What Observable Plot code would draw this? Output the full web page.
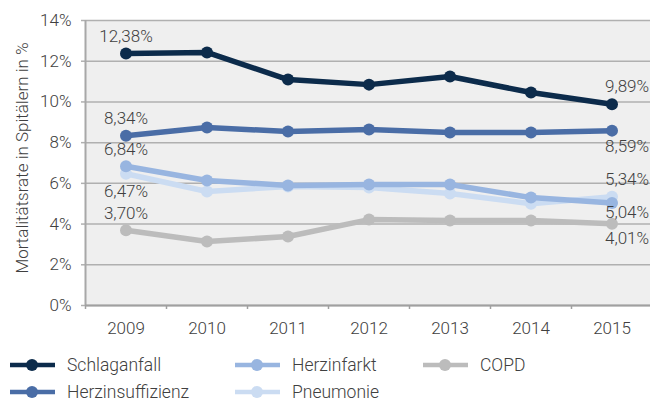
<!DOCTYPE html>
<html><head><meta charset="utf-8">
<script src="https://cdn.jsdelivr.net/npm/d3@7"></script>
<script src="https://cdn.jsdelivr.net/npm/@observablehq/plot@0.6"></script>
<style>
body{margin:0;background:#fff;font-family:Roboto,"Noto Sans",sans-serif;font-weight:300;color:#404040}
#chart{position:relative;width:650px;height:403px;overflow:hidden}
#legend{position:absolute;left:0;top:340px;width:650px;height:63px}
.li{position:absolute;display:flex;align-items:center;font-size:17.5px;color:#404040;font-weight:300;white-space:nowrap}
.li svg{margin-right:12px;flex:none}
</style>
</head><body><div id="chart"></div>
<script>
const years = [2009, 2010, 2011, 2012, 2013, 2014, 2015];
const seriesNames = ["Schlaganfall", "Herzinsuffizienz", "Herzinfarkt", "Pneumonie", "COPD"];
const schlaganfall = [12.38, 12.43, 11.10, 10.85, 11.25, 10.46, 9.89];
const herzinsuffizienz = [8.34, 8.74, 8.55, 8.64, 8.50, 8.50, 8.59];
const herzinfarkt = [6.84, 6.14, 5.90, 5.94, 5.94, 5.30, 5.04];
const pneumonie = [6.47, 5.60, 5.85, 5.80, 5.50, 5.00, 5.34];
const copd = [3.70, 3.14, 3.39, 4.22, 4.17, 4.17, 4.01];
const seriesValues = [schlaganfall, herzinsuffizienz, herzinfarkt, pneumonie, copd];
const colors = ["#0c2b4b", "#4a6da6", "#98b5e0", "#cbdcf2", "#bcbcbc"];
const yTicks = [0, 2, 4, 6, 8, 10, 12, 14];
// label placement for first and last value of each series (offset in px, negative = above)
const firstLabelDy = [-17, -17, -17, 18, -17];
const lastLabelDy = [-18, 16, 10, -17, 15];

const rows = [];
seriesNames.forEach((s, i) => years.forEach((y, j) => rows.push({series: s, year: y, value: seriesValues[i][j], idx: i})));
const fmt = v => d3.format(".2f")(v).replace(".", ",") + "%";
const firstLabels = seriesNames.map((s, i) => ({year: years[0], value: seriesValues[i][0], dy: firstLabelDy[i]}));
const lastLabels = seriesNames.map((s, i) => ({year: years[years.length - 1], value: seriesValues[i][years.length - 1], dy: lastLabelDy[i]}));
const drawOrder = [4, 3, 2, 1, 0];

const marks = [
  Plot.frame({fill: "#efefef", stroke: null}),
  Plot.ruleY(yTicks, {stroke: "#b0b0b0", strokeWidth: 1.5}),
  Plot.axisY({ticks: yTicks, tickSize: 4, tickPadding: 10, tickFormat: d => d + "%", stroke: "#b0b0b0", strokeWidth: 1.5, fontSize: 17, label: null, color: "#404040"}),
  Plot.ruleX([2008.5], {stroke: "#a8a8a8", strokeWidth: 2}),
  Plot.ruleY([0], {stroke: "#a0a0a0", strokeWidth: 2}),
  Plot.axisX({ticks: d3.range(2008.5, 2016, 1), tickSize: 4, tickFormat: () => "", stroke: "#a0a0a0", strokeWidth: 1.5, label: null}),
  Plot.axisX({ticks: years, tickSize: 0, tickPadding: 16, tickFormat: d => String(d), fontSize: 17, label: null})
];
for (const i of drawOrder) {
  const data = rows.filter(r => r.idx === i);
  marks.push(Plot.line(data, {x: "year", y: "value", stroke: colors[i], strokeWidth: 5.5}));
  marks.push(Plot.dot(data, {x: "year", y: "value", fill: colors[i], r: 6, stroke: null}));
}
firstLabels.forEach(l => marks.push(Plot.text([l], {x: "year", y: "value", text: d => fmt(d.value), dy: l.dy, fontSize: 17, fill: "#404040"})));
lastLabels.forEach(l => marks.push(Plot.text([l], {x: "year", y: "value", text: d => fmt(d.value), dy: l.dy, dx: -7, textAnchor: "start", fontSize: 17, fill: "#404040"})));

const chart = Plot.plot({
  width: 650, height: 340,
  marginLeft: 85, marginRight: -2, marginTop: 20, marginBottom: 35,
  style: {fontFamily: "Roboto, 'Noto Sans', sans-serif", fontWeight: 300, fontSize: "17px", color: "#404040", background: "transparent", overflow: "visible"},
  x: {domain: [2008.5, 2015.5], axis: null},
  y: {domain: [0, 14], axis: null},
  marks
});
const root = document.getElementById("chart");
root.appendChild(chart);

// y axis title
const ns = "http://www.w3.org/2000/svg";
const t = document.createElementNS(ns, "text");
t.setAttribute("transform", "translate(24,158) rotate(-90)");
t.setAttribute("text-anchor", "middle");
t.setAttribute("dominant-baseline", "middle");
t.setAttribute("font-size", "17");
t.setAttribute("fill", "#404040");
t.textContent = "Mortalitätsrate in Spitälern in %";
chart.appendChild(t);

// legend
const legend = document.createElement("div");
legend.id = "legend";
root.appendChild(legend);
const legendPos = [[10, 25], [10, 52], [235, 25], [235, 52], [423, 25]];
seriesNames.forEach((s, i) => {
  const d = document.createElement("div");
  d.className = "li";
  d.style.left = legendPos[i][0] + "px";
  d.style.top = (legendPos[i][1] - 11) + "px";
  d.style.height = "22px";
  d.innerHTML = `<svg width="45" height="14"><line x1="0" x2="45" y1="7" y2="7" stroke="${colors[i]}" stroke-width="4.5"/><circle cx="22" cy="7" r="6" fill="${colors[i]}"/></svg><span>${s}</span>`;
  legend.appendChild(d);
});
</script></body></html>
